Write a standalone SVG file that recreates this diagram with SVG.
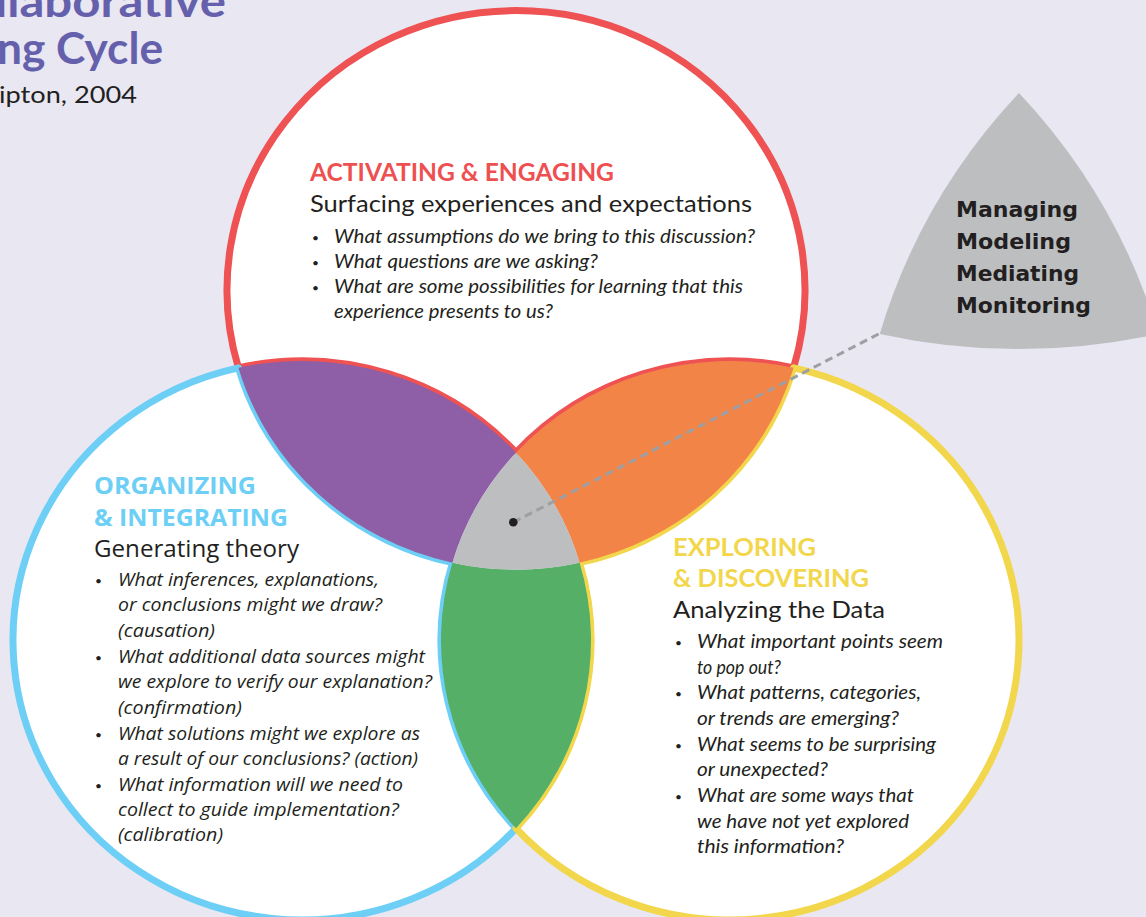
<svg xmlns="http://www.w3.org/2000/svg" xmlns:xlink="http://www.w3.org/1999/xlink" width="1146" height="917" viewBox="0 0 1146 917">
<defs>
<style>
.white{fill:#FFFFFF;stroke-width:7;stroke-linejoin:round}
.title{font-family:Lato,"Liberation Sans",sans-serif;font-weight:700;fill:#6560AC}
.h{font-family:Lato,"Liberation Sans",sans-serif;font-weight:700;font-size:25px}
.sub{font-family:Lato,"Liberation Sans",sans-serif;font-weight:400;font-size:24px;fill:#231F20}
.it{font-family:Lato,"Liberation Sans",sans-serif;font-style:italic;font-size:19px;fill:#231F20}
.bu{font-family:Lato,"Liberation Sans",sans-serif;font-size:12px;fill:#231F20}
.hb{font-family:"Open Sans",Lato,sans-serif;font-weight:700;font-size:23px;fill:#6DCFF6}
.subb{font-family:"Open Sans",Lato,sans-serif;font-weight:400;font-size:23px;fill:#231F20}
.itb{font-family:"Open Sans",Lato,sans-serif;font-style:italic;font-size:18px;fill:#231F20}
.role{font-family:"DejaVu Sans","Liberation Sans",sans-serif;font-weight:700;font-size:21px;fill:#231F20}
</style>
<path id="core" d="M516,452.7 A289,279.5 0 0 1 579.6,562.7 A289,279.5 0 0 1 452.4,562.7 A289,279.5 0 0 1 516,452.7 Z"/>
</defs>
<rect x="0" y="0" width="1146" height="917" fill="#E9E7F2"/>

<g id="title">
<text class="title" x="-5" y="17" font-size="44" textLength="231" lengthAdjust="spacingAndGlyphs">llaborative</text>
<text class="title" x="-3" y="64" font-size="44" textLength="166" lengthAdjust="spacingAndGlyphs">ng Cycle</text>
<text x="-1" y="103" font-family="Lato,'Liberation Sans',sans-serif" font-size="24" fill="#231F20" textLength="138" lengthAdjust="spacingAndGlyphs">ipton, 2004</text>
</g>

<g id="circle-activating">
<path class="white" stroke="#EE5253" d="M238.4,367.8 A289,279.5 0 1 1 793.6,367.8 A289,279.5 0 0 0 516,452.7 A289,279.5 0 0 0 238.4,367.8 Z"/>
</g>
<g id="circle-organizing">
<path class="white" stroke="#6DCFF6" d="M238.4,367.8 A289,279.5 0 0 0 452.4,562.7 A289,279.5 0 0 0 516,828.3 A289,279.5 0 1 1 238.4,367.8 Z"/>
</g>
<g id="circle-exploring">
<path class="white" stroke="#F2D64B" d="M793.6,367.8 A289,279.5 0 1 1 516,828.3 A289,279.5 0 0 0 579.6,562.7 A289,279.5 0 0 0 793.6,367.8 Z"/>
</g>
<g id="lens-purple">
<path fill="#8E5EA6" d="M238.4,367.8 A289,279.5 0 0 1 516,452.7 A289,279.5 0 0 0 452.4,562.7 A289,279.5 0 0 1 238.4,367.8 Z"/>
</g>
<g id="lens-orange">
<path fill="#F38447" d="M516,452.7 A289,279.5 0 0 1 793.6,367.8 A289,279.5 0 0 1 579.6,562.7 A289,279.5 0 0 0 516,452.7 Z"/>
</g>
<g id="lens-green">
<path fill="#55AF66" d="M452.4,562.7 A289,279.5 0 0 0 579.6,562.7 A289,279.5 0 0 1 516,828.3 A289,279.5 0 0 1 452.4,562.7 Z"/>
</g>
<g id="core-gray">
<use xlink:href="#core" href="#core" fill="#BCBEC0"/>
</g>
<g id="roles">
<use xlink:href="#core" href="#core" fill="#BCBEC0" transform="translate(1019,93) scale(2.19) translate(-516,-452.7)"/>
<text class="role" x="956" y="217" textLength="122" lengthAdjust="spacingAndGlyphs">Managing</text>
<text class="role" x="956" y="249" textLength="115" lengthAdjust="spacingAndGlyphs">Modeling</text>
<text class="role" x="956" y="281" textLength="123" lengthAdjust="spacingAndGlyphs">Mediating</text>
<text class="role" x="956" y="313" textLength="135" lengthAdjust="spacingAndGlyphs">Monitoring</text>
</g>

<g id="connectors">
<line x1="513.3" y1="522.3" x2="879.5" y2="333.5" stroke="#9D9FA2" stroke-width="3" stroke-dasharray="8 5"/>
<circle cx="513.3" cy="522.3" r="4.3" fill="#231F20"/>
</g>

<g id="text-activating">
<text class="h" fill="#EE4F51" x="310" y="181" textLength="304" lengthAdjust="spacingAndGlyphs">ACTIVATING &amp; ENGAGING</text>
<text class="sub" x="310" y="212" textLength="442" lengthAdjust="spacingAndGlyphs">Surfacing experiences and expectations</text>
<text class="bu" x="312" y="242">•</text>
<text class="bu" x="312" y="267">•</text>
<text class="bu" x="312" y="292">•</text>
<text class="it" x="334" y="243" textLength="421" lengthAdjust="spacingAndGlyphs">What assumptions do we bring to this discussion?</text>
<text class="it" x="334" y="268" textLength="264" lengthAdjust="spacingAndGlyphs">What questions are we asking?</text>
<text class="it" x="334" y="293" textLength="409" lengthAdjust="spacingAndGlyphs">What are some possibilities for learning that this</text>
<text class="it" x="334" y="318" textLength="219" lengthAdjust="spacingAndGlyphs">experience presents to us?</text>
</g>

<g id="text-organizing">
<text class="hb" x="94" y="494" textLength="162" lengthAdjust="spacingAndGlyphs">ORGANIZING</text>
<text class="hb" x="94" y="526" textLength="194" lengthAdjust="spacingAndGlyphs">&amp; INTEGRATING</text>
<text class="subb" x="94" y="557" textLength="205" lengthAdjust="spacingAndGlyphs">Generating theory</text>
<text class="bu" x="95" y="585">•</text>
<text class="bu" x="95" y="662">•</text>
<text class="bu" x="95" y="739">•</text>
<text class="bu" x="95" y="790">•</text>
<text class="itb" x="118" y="586" textLength="261" lengthAdjust="spacingAndGlyphs">What inferences, explanations,</text>
<text class="itb" x="118" y="611" textLength="264" lengthAdjust="spacingAndGlyphs">or conclusions might we draw?</text>
<text class="itb" x="118" y="637" textLength="97" lengthAdjust="spacingAndGlyphs">(causation)</text>
<text class="itb" x="118" y="663" textLength="307" lengthAdjust="spacingAndGlyphs">What additional data sources might</text>
<text class="itb" x="118" y="688" textLength="314" lengthAdjust="spacingAndGlyphs">we explore to verify our explanation?</text>
<text class="itb" x="118" y="714" textLength="124" lengthAdjust="spacingAndGlyphs">(confirmation)</text>
<text class="itb" x="118" y="740" textLength="302" lengthAdjust="spacingAndGlyphs">What solutions might we explore as</text>
<text class="itb" x="118" y="765" textLength="300" lengthAdjust="spacingAndGlyphs">a result of our conclusions? (action)</text>
<text class="itb" x="118" y="791" textLength="285" lengthAdjust="spacingAndGlyphs">What information will we need to</text>
<text class="itb" x="118" y="816" textLength="281" lengthAdjust="spacingAndGlyphs">collect to guide implementation?</text>
<text class="itb" x="118" y="841" textLength="105" lengthAdjust="spacingAndGlyphs">(calibration)</text>
</g>

<g id="text-exploring">
<text class="h" fill="#F2D64B" x="673" y="556" textLength="143" lengthAdjust="spacingAndGlyphs">EXPLORING</text>
<text class="h" fill="#F2D64B" x="673" y="587" textLength="196" lengthAdjust="spacingAndGlyphs">&amp; DISCOVERING</text>
<text class="sub" x="673" y="618" textLength="212" lengthAdjust="spacingAndGlyphs">Analyzing the Data</text>
<text class="bu" x="675" y="647">•</text>
<text class="bu" x="675" y="698">•</text>
<text class="bu" x="675" y="750">•</text>
<text class="bu" x="675" y="801">•</text>
<text class="it" x="697" y="648" textLength="246" lengthAdjust="spacingAndGlyphs">What important points seem</text>
<text class="it" x="697" y="674" textLength="84" lengthAdjust="spacingAndGlyphs">to pop out?</text>
<text class="it" x="697" y="699" textLength="224" lengthAdjust="spacingAndGlyphs">What patterns, categories,</text>
<text class="it" x="697" y="725" textLength="202" lengthAdjust="spacingAndGlyphs">or trends are emerging?</text>
<text class="it" x="697" y="751" textLength="239" lengthAdjust="spacingAndGlyphs">What seems to be surprising</text>
<text class="it" x="697" y="776" textLength="131" lengthAdjust="spacingAndGlyphs">or unexpected?</text>
<text class="it" x="697" y="802" textLength="217" lengthAdjust="spacingAndGlyphs">What are some ways that</text>
<text class="it" x="697" y="828" textLength="212" lengthAdjust="spacingAndGlyphs">we have not yet explored</text>
<text class="it" x="697" y="853" textLength="147" lengthAdjust="spacingAndGlyphs">this information?</text>
</g>
</svg>
